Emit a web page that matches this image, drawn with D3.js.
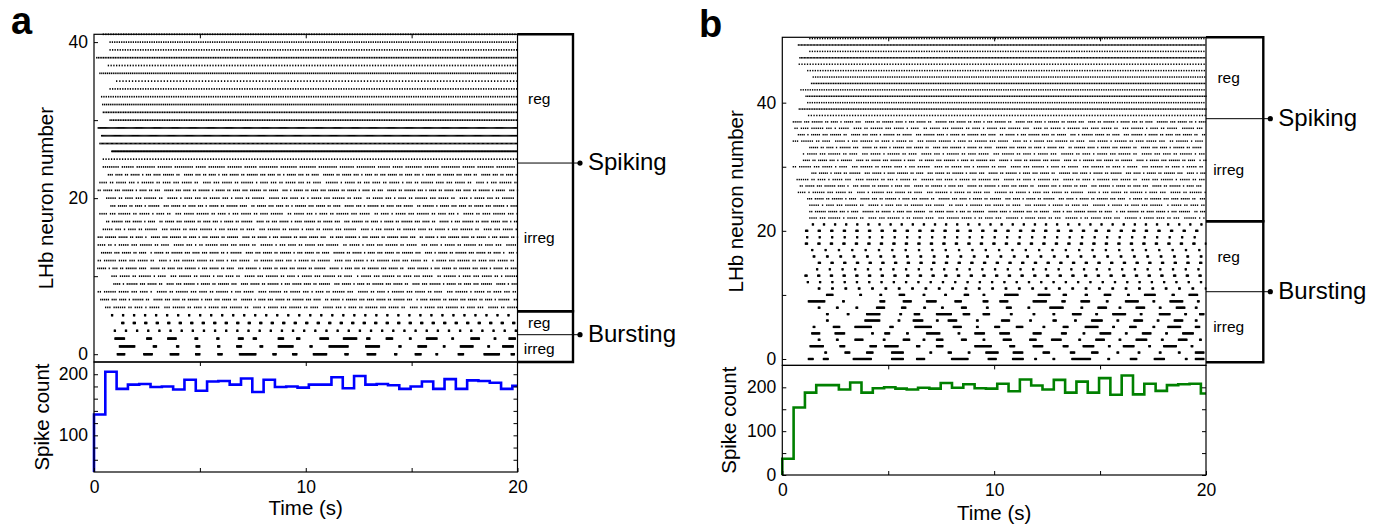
<!DOCTYPE html>
<html><head><meta charset="utf-8">
<script src="https://cdn.jsdelivr.net/npm/d3@7"></script>
<style>
body{margin:0;background:#fff}
svg{display:block}
text{font-family:"Liberation Sans",Arial,Helvetica,sans-serif;fill:#000}
</style></head><body>
<svg id="chart" width="1381" height="524"></svg>
<script>
// ---------------- DATA ----------------
const timeTicks = [0, 5, 10, 15, 20];
const timeTickLabels = [0, 10, 20];
const rasterTicks = [0, 10, 20, 30, 40];
const rasterTickLabels = [0, 20, 40];
const countTicksA = [60, 80, 100, 120, 140, 160, 180, 200];
const countTickLabelsA = [100, 200];
const countTicksB = [0, 50, 100, 150, 200];
const countTickLabelsB = [0, 100, 200];
const binWidth = 0.534; // s
const countsA = [134, 204, 176, 183, 184, 179, 180, 175, 191, 173, 188, 189, 183, 193, 171, 191, 179, 180, 178, 183, 183, 195, 177, 197, 183, 184, 182, 176, 180, 188, 176, 192, 176, 190, 189, 186, 176, 181];
const countsB = [37, 154, 188, 205, 205, 195, 211, 188, 198, 200, 197, 195, 199, 197, 210, 199, 207, 198, 197, 208, 191, 218, 204, 195, 217, 188, 213, 188, 221, 183, 227, 184, 208, 192, 205, 207, 208, 186];
const subLabels = ["reg", "irreg"];
// groups: [name, lower neuron bound, upper bound, reg/irreg split]
const groupsA = [["Spiking", 5.5, 41, 24.5], ["Bursting", -1, 5.5, 2.5]];
const groupsB = [["Spiking", 21.5, 50.2, 37.5], ["Bursting", -0.5, 21.5, 10.5]];

// Panel a rasters
// regular spiking: [neuron, onset s, ISI s]
const aSpikingReg = [[41,0.44,0.12],[40,0.76,0.11],[39,0.76,0.12],[38,0.13,0.08],[37,0.68,0.13],[36,0.28,0.09],[35,1.07,0.15],[34,0.76,0.12],[33,0.36,0.11],[32,0.41,0.09],[31,0.44,0.08],[30,0.76,0.08],[29,0.2,0.05],[28,0.36,0.05],[27,0.28,0.06],[26,0.84,0.035],[25,0.44,0.13]];
// irregular spiking: [neuron, onset, ISI, run lengths between skipped spikes (0 = extra skip)]
const aSpikingIrreg = [
 [24,0.44,0.1,"8697958769889796587968978698797689798697896789768979867"],
 [23,0.68,0.09,"3425134620532413526342153240625314235243152634205324135"],
 [22,0.28,0.1,"4253162435204352614325324061523425132643520413624352416"],
 [21,0.2,0.09,"2536142305342615243625031524362514230526314253426150342"],
 [20,0.6,0.1,"5243620514325314260534215362402531426352041532642513524"],
 [19,0.8,0.09,"3524160352431526402534216352405316243502615342536142053"],
 [18,0.28,0.1,"4362514203562413524602531426350241536243105246352413625"],
 [17,0.6,0.09,"2635140253624315260423514625303624152634205136245316240"],
 [16,0.44,0.1,"5314260352461352403625142536041352642513620435216352441"],
 [15,0.2,0.09,"3652410536241352604251362453024613526430251364251352460"],
 [14,0.2,0.1,"4215362405312643520613425360251436250341526243051326452"],
 [13,0.36,0.09,"6352401526343521604352613524062514352630415263524103562"],
 [12,0.2,0.1,"2643520413652413502643152604351264352015362435216430526"],
 [11,0.18,0.09,"5132640524361352403615243526051432635204613526341526304"],
 [10,0.85,0.1,"3526140362513420536241536240153624350261435216340526351"],
 [9,0.94,0.09,"4163520436152630452613542603514263520436152436051342653"],
 [8,0.2,0.1,"2653410526342613504625314263052416352403615243620541362"],
 [7,0.32,0.09,"5341620534261435206143526340251634526301462535241603524"],
 [6,0.55,0.1,"3624150362415362041536240531426352041536243052614352063"]
];
// regular bursting: [neuron, onset, period, burst duration]
const aBurstingReg = [[5,0.83,0.52,0.06],[4,1.31,0.543,0.11],[3,0.96,0.526,0.06]];
// irregular bursting: [neuron, [[burst start, burst end], ...]]
const aBurstingIrreg = [
 [2,[[0.99,1.46],[2.49,2.72],[3.48,3.9],[4.77,4.9],[5.8,5.92],[6.82,7.05],[7.52,7.68],[8.7,8.97],[9.57,9.73],[10.67,11.07],[11.78,12.41],[12.88,13.04],[13.8,14.1],[14.9,14.98],[15.7,16.2],[16.9,16.98],[17.8,18.2],[18.9,18.98],[19.6,19.9]]],
 [1,[[1.2,1.94],[2.8,2.96],[3.9,4.0],[4.82,5.0],[5.84,5.95],[6.74,6.98],[7.84,7.97],[8.7,9.41],[10.2,10.3],[11.1,12.0],[12.83,13.5],[14.4,14.5],[15.3,15.7],[16.5,16.58],[17.3,17.9],[18.6,18.68],[19.3,19.8]]],
 [0,[[1.1,1.45],[2.35,2.75],[3.6,4.0],[4.8,5.0],[5.85,6.05],[6.87,7.65],[8.45,8.6],[9.38,9.58],[10.36,11.0],[11.85,12.02],[12.9,13.32],[14.2,14.3],[15.17,15.45],[16.15,16.23],[17.2,17.45],[18.42,19.15],[19.7,19.85]]]
];

// Panel b rasters
const bSpikingReg = [[50,1.3,0.12],[49,0.76,0.07],[48,1.3,0.12],[47,0.83,0.07],[46,0.8,0.13],[45,1.2,0.12],[44,1.46,0.11],[43,1.38,0.08],[42,0.88,0.11],[41,1.12,0.08],[40,1.2,0.11],[39,0.8,0.08],[38,1.24,0.13]];
const bSpikingIrreg = [
 [37,0.52,0.09,"5362415305264135206352413620534162530426153240635214635"],
 [36,0.6,0.1,"2463150426351402536241536304251634520361425063524136240"],
 [35,0.76,0.09,"4153620534162503641526340251364250316524036152435206341"],
 [34,0.52,0.1,"3624051362415203561426350421536240351624530261435216350"],
 [33,1.3,0.09,"5241630524163520436152406352415302641536205341625041362"],
 [32,1.0,0.1,"1536240351624053162450362415306241536205342615304256314"],
 [31,1.0,0.09,"4253160425361402536142630514263504216352604153624015362"],
 [30,0.52,0.1,"2635140362541360425316240536142503624150362415263051426"],
 [29,1.4,0.09,"3514260351462403526143052614352063415260341526304152634"],
 [28,0.7,0.1,"6241530462315206341526305241630524163520436152406352415"],
 [27,0.85,0.09,"2536410352614305261430526143520631524036152430526143052"],
 [26,0.76,0.1,"4163520416352403615243062514352604135261430526314025361"],
 [25,1.2,0.09,"3526140532614352063415260341526034152634015263452061435"],
 [24,1.3,0.1,"5143620514326350241635240361524306152436015243625031462"],
 [23,1.3,0.09,"2653140625143602541326054163250413652401362451360245136"],
 [22,1.3,0.1,"4361520436125403651243061542306125430615423061254306152"]
];
const bBurstingReg = [[21,1.42,0.524,0.07],[20,1.1,0.594,0.1],[19,1.15,0.59,0.07],[18,1.09,0.59,0.1],[17,1.39,0.63,0.07],[16,1.46,0.63,0.08],[15,1.7,0.6,0.1],[14,1.62,0.6,0.07],[13,1.07,0.6,0.1],[12,1.18,0.58,0.07],[11,1.7,0.63,0.08]];
const bBurstingIrreg = [
 [10,[[2.09,2.41],[3.66,3.74],[4.61,4.69],[5.52,5.79],[6.65,6.73],[7.67,7.75],[8.59,8.79],[9.48,9.56],[10.5,11.13],[12.08,12.63],[13.26,13.41],[14.3,14.4],[15.2,15.5],[16.3,16.38],[17.1,17.6],[18.4,18.5],[19.2,19.6]]],
 [9,[[1.23,2.01],[2.85,2.93],[4.61,4.84],[5.71,6.1],[6.81,7.28],[8.15,8.46],[9.48,9.72],[10.27,10.66],[11.84,12.47],[13.2,13.35],[14.1,14.5],[15.3,15.38],[16.2,16.8],[17.5,17.58],[18.3,18.9],[19.6,19.68]]],
 [8,[[1.7,1.78],[2.56,2.64],[3.48,3.56],[4.45,4.84],[5.63,5.83],[6.68,6.76],[7.52,7.6],[8.46,8.7],[9.64,9.72],[10.58,10.82],[11.6,11.68],[12.63,13.26],[14.1,14.18],[14.9,15.3],[15.9,15.98],[16.7,17.1],[17.8,17.88],[18.6,19.0],[19.5,19.58]]],
 [7,[[2.09,2.17],[3.07,3.15],[3.98,4.61],[5.55,5.63],[6.23,6.5],[7.28,7.99],[8.54,8.85],[9.48,9.8],[10.77,10.85],[11.84,11.92],[12.78,12.86],[13.7,14.1],[14.8,14.88],[15.6,16.2],[16.9,16.98],[17.8,18.3],[19.0,19.08],[19.7,19.9]]],
 [6,[[2.09,2.17],[3.9,4.61],[5.47,5.55],[6.18,6.65],[7.28,7.36],[7.83,8.23],[9.17,9.25],[10.35,10.74],[11.68,11.76],[12.78,12.94],[13.8,13.88],[14.6,15.1],[15.8,15.88],[16.6,17.0],[17.7,17.78],[18.5,18.9],[19.5,19.58]]],
 [5,[[1.46,1.54],[2.41,2.72],[3.43,4.22],[5.08,5.24],[6.26,7.05],[8.07,8.46],[9.17,9.25],[10.03,10.27],[11.05,11.37],[12.31,12.39],[13.26,13.49],[14.3,14.9],[15.6,15.68],[16.4,16.7],[17.5,17.58],[18.2,18.8],[19.5,19.7]]],
 [4,[[1.39,1.78],[2.49,2.96],[4.22,4.3],[4.84,5.08],[5.87,5.95],[6.81,7.44],[8.3,8.38],[9.09,9.56],[10.27,10.74],[11.84,12.23],[13.18,13.41],[14.2,14.28],[15.0,15.5],[16.2,16.28],[17.0,17.4],[18.1,18.18],[18.9,19.4]]],
 [3,[[1.7,1.78],[2.56,2.64],[3.43,3.82],[4.77,4.85],[5.71,6.02],[6.65,6.73],[7.28,7.6],[8.46,8.7],[9.48,9.56],[10.43,10.82],[11.68,12.0],[12.71,13.18],[14.0,14.08],[14.8,15.2],[15.9,15.98],[16.7,17.2],[17.9,17.98],[18.7,19.1],[19.7,19.78]]],
 [2,[[1.31,1.94],[2.72,2.96],[4.14,4.45],[4.84,5.47],[6.34,6.5],[7.28,7.6],[9.09,9.88],[10.74,10.98],[11.84,12.31],[13.26,13.49],[14.2,14.7],[15.4,15.48],[16.1,16.6],[17.3,17.38],[18.0,18.6],[19.3,19.38]]],
 [1,[[2.01,2.09],[2.96,3.19],[3.98,4.29],[5.16,5.71],[6.97,7.05],[7.83,7.99],[8.78,8.86],[9.61,10.19],[10.9,11.37],[12.31,12.63],[13.6,13.8],[14.6,14.9],[15.8,15.88],[16.8,16.88],[17.8,17.88],[18.7,18.78],[19.5,19.9]]],
 [0,[[1.23,1.46],[1.94,2.17],[3.35,4.22],[5.16,5.71],[6.34,6.73],[7.99,8.78],[9.72,10.11],[10.87,11.37],[11.92,12.0],[12.78,12.86],[13.67,14.56],[15.37,15.45],[16.43,16.75],[17.56,18.05],[19.03,19.11],[19.5,19.9]]]
];

// ---------------- BUILD ----------------
const T_END = 20, BURST_STEP = 0.025;
function buildSpikes(reg, irr, breg, birr) {
  const out = [];
  reg.forEach(([n, onset, isi]) => { for (let t = onset; t <= T_END; t += isi) out.push({n, t, b: false}); });
  irr.forEach(([n, onset, isi, runs]) => {
    let t = onset, i = 0;
    while (t <= T_END) {
      const k = +runs[i % runs.length]; i++;
      if (k === 0) { t += isi; continue; }
      for (let j = 0; j < k && t <= T_END; j++) { out.push({n, t, b: false}); t += isi; }
      t += isi;
    }
  });
  breg.forEach(([n, onset, period, dur]) => {
    for (let s = onset; s <= T_END; s += period)
      for (let t = s; t <= Math.min(s + dur + 1e-9, T_END); t += BURST_STEP) out.push({n, t, b: true});
  });
  birr.forEach(([n, bursts]) => {
    bursts.forEach(([s, e]) => { for (let t = s; t <= e + 1e-9; t += BURST_STEP) out.push({n, t, b: true}); });
  });
  return out;
}

const FONT = '"Liberation Sans", Arial, Helvetica, sans-serif';
const svg = d3.select("#chart");

function styleAxis(sel, size) {
  sel.select(".domain").remove();
  sel.attr("font-family", FONT).attr("font-size", size);
  sel.selectAll(".tick line").attr("stroke", "#000").attr("stroke-width", 1);
}

function drawPanel(p) {
  const x = d3.scaleLinear().domain([0, T_END]).range([p.left, p.right]);
  const yR = d3.scaleLinear().domain(p.rasterDomain).range([p.rasterBottom, p.rasterTop]);
  const yH = d3.scaleLinear().domain(p.histDomain).range([p.histBottom, p.rasterBottom]);
  const g = svg.append("g");

  // spikes
  g.append("g").selectAll("rect").data(p.spikes).join("rect")
    .attr("x", d => x(d.t) - p.spikeW / 2)
    .attr("y", d => yR(d.n) - (d.b ? p.burstH : p.spikeH) / 2)
    .attr("width", p.spikeW)
    .attr("height", d => d.b ? p.burstH : p.spikeH)
    .attr("fill", "#000");

  // histogram (stairs)
  const pts = [[0, p.histDomain[0]]];
  p.counts.forEach((c, i) => pts.push([i * binWidth, c]));
  pts.push([T_END, p.counts[p.counts.length - 1]]);
  const line = d3.line().x(d => x(d[0])).y(d => yH(d[1])).curve(d3.curveStepAfter);
  g.append("path").datum(pts).attr("d", line)
    .attr("fill", "none").attr("stroke", p.color).attr("stroke-width", 2.6).attr("stroke-linejoin", "miter");

  // frames
  g.append("rect").attr("x", p.left).attr("y", p.rasterTop).attr("width", p.right - p.left)
    .attr("height", p.rasterBottom - p.rasterTop).attr("fill", "none").attr("stroke", "#000").attr("stroke-width", 1.2);
  g.append("rect").attr("x", p.left).attr("y", p.rasterBottom).attr("width", p.right - p.left)
    .attr("height", p.histBottom - p.rasterBottom).attr("fill", "none").attr("stroke", "#000").attr("stroke-width", 1.2);

  // axes
  g.append("g").attr("transform", `translate(${p.left},0)`)
    .call(d3.axisLeft(yR).tickValues(rasterTicks).tickSize(-4).tickPadding(6)
      .tickFormat(d => rasterTickLabels.includes(d) ? d : ""))
    .call(s => styleAxis(s, 17.5));
  g.append("g").attr("transform", `translate(0,${p.rasterTop})`)
    .call(d3.axisTop(x).tickValues(timeTicks.slice(1, -1)).tickSize(-4).tickFormat(""))
    .call(s => styleAxis(s, 17.5));
  g.append("g").attr("transform", `translate(0,${p.rasterBottom})`)
    .call(d3.axisTop(x).tickValues(timeTicks.slice(1, -1)).tickSize(-4).tickFormat(""))
    .call(s => styleAxis(s, 17.5));
  g.append("g").attr("transform", `translate(0,${p.histBottom})`)
    .call(d3.axisBottom(x).tickValues(timeTicks).tickSize(-4).tickPadding(9)
      .tickFormat(d => timeTickLabels.includes(d) ? d : ""))
    .call(s => styleAxis(s, 17.5));
  g.append("g").attr("transform", `translate(${p.left},0)`)
    .call(d3.axisLeft(yH).tickValues(p.countTicks).tickSize(-4).tickPadding(6)
      .tickFormat(d => p.countLabels.includes(d) ? d : ""))
    .call(s => styleAxis(s, 17.5));
  g.append("g").attr("transform", `translate(${p.right},0)`)
    .call(d3.axisRight(yH).tickValues(p.countTicks).tickSize(-4).tickFormat(""))
    .call(s => styleAxis(s, 17.5));

  // titles
  const rMid = (p.rasterTop + p.rasterBottom) / 2, hMid = (p.rasterBottom + p.histBottom) / 2;
  g.append("text").attr("transform", `translate(${p.rasterTitleX},${rMid}) rotate(-90)`)
    .attr("text-anchor", "middle").attr("font-size", 20.5).text("LHb neuron number");
  g.append("text").attr("transform", `translate(${p.histTitleX},${hMid}) rotate(-90)`)
    .attr("text-anchor", "middle").attr("font-size", 20.5).text("Spike count");
  g.append("text").attr("x", (p.left + p.right) / 2).attr("y", p.timeTitleY)
    .attr("text-anchor", "middle").attr("font-size", 20.5).text("Time (s)");
  g.append("text").attr("x", p.letterX).attr("y", p.letterY)
    .attr("font-size", 38).attr("font-weight", "bold").text(p.letter);

  // brackets
  const bx0 = p.right, bx1 = p.bracketRight, dotX = bx1 + 7;
  const labelX = (bx0 + bx1) / 2 - 6;
  p.groups.forEach(([name, lo, hi, split]) => {
    g.append("path").attr("d", `M${bx0},${yR(hi)}H${bx1}V${yR(lo)}H${bx0}`)
      .attr("fill", "none").attr("stroke", "#000").attr("stroke-width", 2.4);
    g.append("line").attr("x1", bx0).attr("x2", dotX).attr("y1", yR(split)).attr("y2", yR(split))
      .attr("stroke", "#000").attr("stroke-width", 1);
    g.append("circle").attr("cx", dotX).attr("cy", yR(split)).attr("r", 2.6).attr("fill", "#000");
    g.append("text").attr("x", dotX + 8).attr("y", yR(split)).attr("dy", "0.3em")
      .attr("font-size", 24).text(name);
    g.append("text").attr("x", labelX).attr("y", yR((hi + split) / 2)).attr("dy", "0.35em")
      .attr("text-anchor", "middle").attr("font-size", 15.5).text(subLabels[0]);
    g.append("text").attr("x", labelX).attr("y", yR((split + lo) / 2)).attr("dy", "0.35em")
      .attr("text-anchor", "middle").attr("font-size", 15.5).text(subLabels[1]);
  });
}

drawPanel({
  letter: "a", letterX: 11, letterY: 33.5,
  left: 94, right: 517.5, rasterTop: 34.3, rasterBottom: 362, histBottom: 472,
  rasterDomain: [-1, 41], histDomain: [40, 220],
  counts: countsA, color: "#0000ff", countTicks: countTicksA, countLabels: countTickLabelsA,
  spikes: buildSpikes(aSpikingReg, aSpikingIrreg, aBurstingReg, aBurstingIrreg),
  spikeW: 1.3, spikeH: 1.7, burstH: 2.4,
  groups: groupsA, bracketRight: 573,
  rasterTitleX: 53, histTitleX: 49, timeTitleY: 515
});
drawPanel({
  letter: "b", letterX: 699, letterY: 36.5,
  left: 782.3, right: 1206, rasterTop: 37.3, rasterBottom: 365.4, histBottom: 475,
  rasterDomain: [-1, 50.2], histDomain: [0, 250],
  counts: countsB, color: "#008000", countTicks: countTicksB, countLabels: countTickLabelsB,
  spikes: buildSpikes(bSpikingReg, bSpikingIrreg, bBurstingReg, bBurstingIrreg),
  spikeW: 1.3, spikeH: 1.5, burstH: 2.2,
  groups: groupsB, bracketRight: 1263.3,
  rasterTitleX: 743, histTitleX: 736, timeTitleY: 520
});
</script>
</body></html>
